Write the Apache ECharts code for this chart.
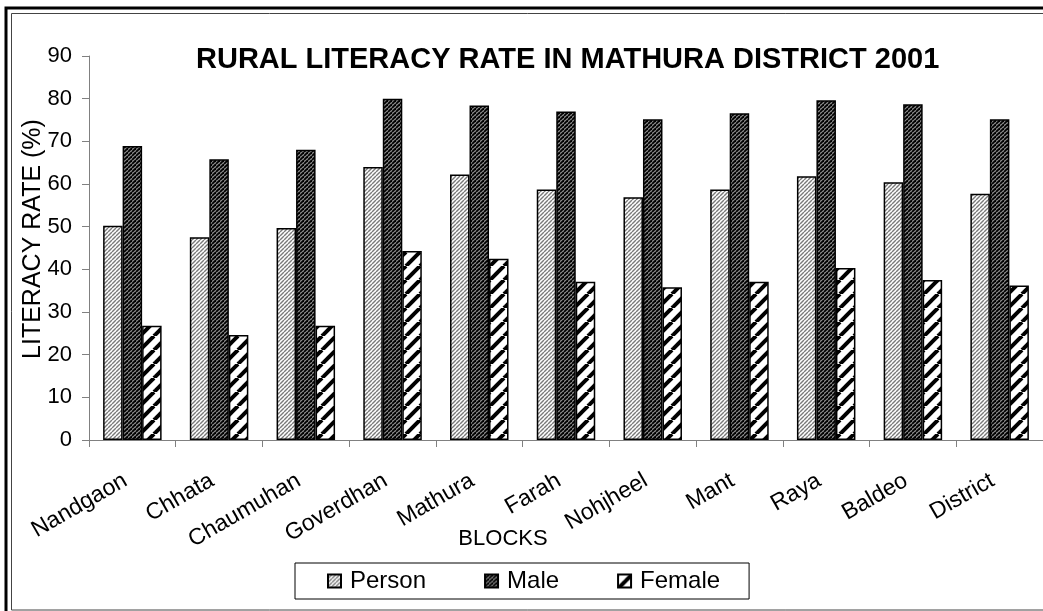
<!DOCTYPE html>
<html>
<head>
<meta charset="utf-8">
<script src="https://cdn.jsdelivr.net/npm/echarts@6/dist/echarts.min.js"></script>
<style>
html,body{margin:0;padding:0;background:#fff;}
#chart{width:1043px;height:611px;}
</style>
</head>
<body>
<div id="chart"></div>
<script>
const categories = ['Nandgaon','Chhata','Chaumuhan','Goverdhan','Mathura','Farah','Nohjheel','Mant','Raya','Baldeo','District'];
const person = [50.2, 47.5, 49.7, 64.0, 62.2, 58.7, 56.9, 58.7, 61.8, 60.4, 57.7];
const male   = [68.9, 65.8, 68.0, 80.0, 78.4, 77.0, 75.2, 76.6, 79.6, 78.7, 75.2];
const female = [26.8, 24.6, 26.8, 44.3, 42.5, 37.1, 35.8, 37.1, 40.3, 37.5, 36.2];
const yTicks = {min: 0, max: 90, interval: 10};

function stripe(p, bg, fg, w) {
  const c = document.createElement('canvas');
  c.width = p; c.height = p;
  const ctx = c.getContext('2d');
  ctx.fillStyle = bg; ctx.fillRect(0, 0, p, p);
  ctx.strokeStyle = fg; ctx.lineWidth = w;
  for (let k = -1; k <= 1; k++) {
    ctx.beginPath();
    ctx.moveTo(k * p, p);
    ctx.lineTo(k * p + p, 0);
    ctx.stroke();
  }
  return {image: c, repeat: 'repeat'};
}

const FONT = "'Liberation Sans', Arial, sans-serif";
const chart = echarts.init(document.getElementById('chart'));
const barStyle = (pat) => ({color: pat, borderColor: '#000', borderWidth: 1.5});

chart.setOption({
  backgroundColor: '#fff',
  animation: false,
  textStyle: {fontFamily: FONT, color: '#000'},
  title: {
    text: 'RURAL LITERACY RATE IN MATHURA DISTRICT 2001',
    left: 191, top: 40,
    textStyle: {fontFamily: FONT, fontSize: 29, fontWeight: 'bold', color: '#000'}
  },
  graphic: [
    {type: 'rect', shape: {x: 6, y: 8, width: 1200, height: 800}, style: {fill: 'none', stroke: '#000', lineWidth: 3}, silent: true},
    {type: 'rect', shape: {x: 11.5, y: 13.5, width: 1200, height: 596.5}, style: {fill: 'none', stroke: '#444', lineWidth: 1}, silent: true}
  ],
  legend: {
    left: 295, top: 563,
    padding: [6, 29, 6, 32],
    borderColor: '#000', borderWidth: 1,
    icon: 'rect',
    itemWidth: 13, itemHeight: 13, itemGap: 58,
    textStyle: {fontFamily: FONT, fontSize: 24, color: '#000', padding: [0, 0, 0, 4]},
    data: ['Person', 'Male', 'Female']
  },
  grid: {left: 89, top: 56, width: 954, height: 384, containLabel: false},
  xAxis: {
    type: 'category',
    data: categories,
    name: 'BLOCKS',
    nameLocation: 'middle',
    nameGap: 88,
    nameMoveOverlap: false,
    nameTextStyle: {fontFamily: FONT, fontSize: 22, color: '#000', padding: [0, 126, 0, 0]},
    axisLine: {lineStyle: {color: '#808080', width: 1}},
    axisTick: {show: true, length: 7, lineStyle: {color: '#808080'}},
    axisLabel: {interval: 0, rotate: 30, margin: 35, padding: [0, 8, 0, 0], fontFamily: FONT, fontSize: 23, color: '#000'},
    splitLine: {show: false}
  },
  yAxis: {
    type: 'value',
    min: yTicks.min, max: yTicks.max, interval: yTicks.interval,
    name: 'LITERACY RATE (%)',
    nameLocation: 'middle',
    nameRotate: 90,
    nameGap: 43,
    nameMoveOverlap: false,
    nameTextStyle: {fontFamily: FONT, fontSize: 25, color: '#000', padding: [0, 0, 0, 18]},
    axisLine: {show: true, lineStyle: {color: '#808080', width: 1}},
    axisTick: {show: true, length: 7, lineStyle: {color: '#808080'}},
    axisLabel: {margin: 17, fontFamily: FONT, fontSize: 22, color: '#000'},
    splitLine: {show: false}
  },
  series: [
    {name: 'Person', type: 'bar', data: person, barWidth: 19.5, barGap: '0%',
     itemStyle: barStyle(stripe(4, '#ffffff', '#7a7a7a', 1.4))},
    {name: 'Male', type: 'bar', data: male, barWidth: 19.5, barGap: '0%',
     itemStyle: barStyle(stripe(4, '#8c8c8c', '#000000', 1.8))},
    {name: 'Female', type: 'bar', data: female, barWidth: 19.5, barGap: '0%',
     itemStyle: barStyle(stripe(14, '#ffffff', '#000000', 4))}
  ]
});
</script>
</body>
</html>
